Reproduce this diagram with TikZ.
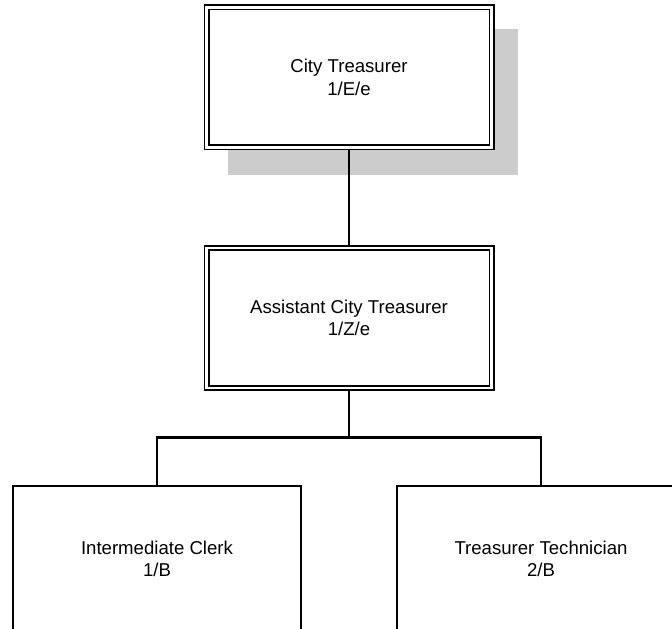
\documentclass[tikz,border=0pt]{standalone}
\usepackage{fontspec}
\setmainfont{Liberation Sans}
\usetikzlibrary{positioning}

\begin{document}
\begin{tikzpicture}[x=1pt, y=1pt,
		every node/.style={font=\fontsize{18.6}{22.3}\selectfont, align=center},
		dbox/.style={draw, double=white, line width=1.8pt, double distance=2.4pt,
				fill=white, minimum width=285pt, minimum height=140pt, outer sep=3pt, inner sep=0pt},
		sbox/.style={draw, line width=2.2pt, fill=white, minimum width=288pt, minimum height=146pt, inner sep=0pt},
		conn/.style={line width=2.8pt}]
	% Parameters
	\def\W{672} % breedte
	\def\H{629} % hoogte
	\useasboundingbox (0,0) rectangle (\W,\H);

	% --- Schaduw achter de bovenste box ---
	\fill[gray!40] (228,454) rectangle (518,600);

	% --- Boxen ---
	\node[dbox] (ct) at (349,551.5) {City Treasurer\\1/E/e};
	\node[dbox] (act) at (349,311) {Assistant City Treasurer\\1/Z/e};
	\node[sbox] (ic) at (157,70) {Intermediate Clerk\\1/B};
	\node[sbox] (tt) at (541,70) {Treasurer Technician\\2/B};

	% --- Verbindingen ---
	\coordinate (split) at (349,191.5);
	\draw[conn] (ct.south) -- (act.north);
	\draw[conn] (act.south) -- (split);
	\draw[conn] (ic.north) |- (split) -| (tt.north);
\end{tikzpicture}
\end{document}
